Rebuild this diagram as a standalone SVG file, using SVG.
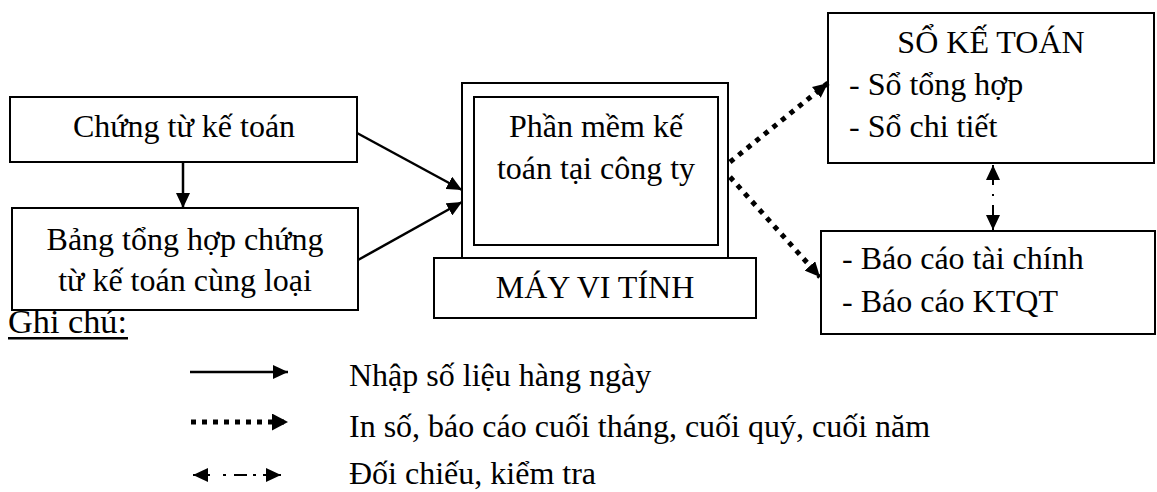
<svg xmlns="http://www.w3.org/2000/svg" width="1157" height="492" viewBox="0 0 1157 492">
<defs>
<marker id="ah" viewBox="0 0 15 14" refX="15" refY="7" markerWidth="15" markerHeight="14" markerUnits="userSpaceOnUse" orient="auto-start-reverse">
<path d="M0,0 L15,7 L0,14 z" fill="#000"/>
</marker>
<marker id="ahb" viewBox="0 0 16 17" refX="16" refY="8.5" markerWidth="16" markerHeight="17" markerUnits="userSpaceOnUse" orient="auto">
<path d="M0,0 L16,8.5 L0,17 z" fill="#000"/>
</marker>
<style>
.box{fill:#fff;stroke:#000;stroke-width:2}
.t{font-family:"Liberation Serif","Times New Roman",serif;font-size:32px;fill:#000}
.c{text-anchor:middle}
.solid{fill:none;stroke:#000;stroke-width:2.5}
.dot{fill:none;stroke:#000;stroke-width:5;stroke-dasharray:5 6}
.dd{fill:none;stroke:#000;stroke-width:2}
</style>
</defs>
<rect width="1157" height="492" fill="#fff"/>

<g id="chung-tu">
<rect class="box" x="10" y="97" width="347" height="65"/>
<text class="t c" x="184" y="137">Chứng từ kế toán</text>
</g>

<g id="bang-tong-hop">
<rect class="box" x="12" y="208" width="346" height="102"/>
<text class="t c" x="185" y="250">Bảng tổng hợp chứng</text>
<text class="t c" x="185" y="291">từ kế toán cùng loại</text>
</g>

<g id="may-vi-tinh">
<rect class="box" x="462" y="83" width="266" height="175"/>
<rect class="box" x="474" y="97" width="244" height="148"/>
<text class="t c" x="596" y="137">Phần mềm kế</text>
<text class="t c" x="596" y="179">toán tại công ty</text>
<rect class="box" x="434" y="258" width="322" height="60"/>
<text class="t c" x="595" y="298">MÁY VI TÍNH</text>
</g>

<g id="so-ke-toan">
<rect class="box" x="828" y="13" width="326" height="150"/>
<text class="t c" x="991" y="53">SỔ KẾ TOÁN</text>
<text class="t" x="849" y="95">- Sổ tổng hợp</text>
<text class="t" x="849" y="137">- Sổ chi tiết</text>
</g>

<g id="bao-cao">
<rect class="box" x="821" y="231" width="334" height="103"/>
<text class="t" x="842" y="269">- Báo cáo tài chính</text>
<text class="t" x="842" y="312">- Báo cáo KTQT</text>
</g>

<g id="connectors">
<line class="solid" x1="357" y1="133" x2="462" y2="190" marker-end="url(#ah)"/>
<line class="solid" x1="358" y1="260" x2="462" y2="202" marker-end="url(#ah)"/>
<line class="solid" x1="183" y1="162" x2="183" y2="208" marker-end="url(#ah)"/>
<line class="dot" x1="730" y1="162" x2="828" y2="83" marker-end="url(#ah)"/>
<line class="dot" x1="730" y1="177" x2="820" y2="277" marker-end="url(#ah)"/>
<line class="dd" x1="993" y1="165" x2="993" y2="230" stroke-dasharray="20 9 2 9 25" marker-start="url(#ah)" marker-end="url(#ah)"/>
</g>

<g id="legend">
<text class="t" x="8" y="333" textLength="119" lengthAdjust="spacingAndGlyphs" style="font-size:33px">Ghi chú:</text>
<rect x="8" y="337" width="120" height="2.5" fill="#000"/>
<line class="solid" x1="190" y1="372" x2="288" y2="372" marker-end="url(#ah)"/>
<text class="t" x="349" y="386">Nhập số liệu hàng ngày</text>
<line class="dot" x1="191" y1="422" x2="288" y2="422" marker-end="url(#ahb)"/>
<text class="t" x="349" y="437">In số, báo cáo cuối tháng, cuối quý, cuối năm</text>
<line class="dd" x1="193" y1="475" x2="281" y2="475" stroke-dasharray="17 13 3 8 13 6 3 7 18" marker-start="url(#ah)" marker-end="url(#ah)"/>
<text class="t" x="349" y="484">Đối chiếu, kiểm tra</text>
</g>
</svg>
